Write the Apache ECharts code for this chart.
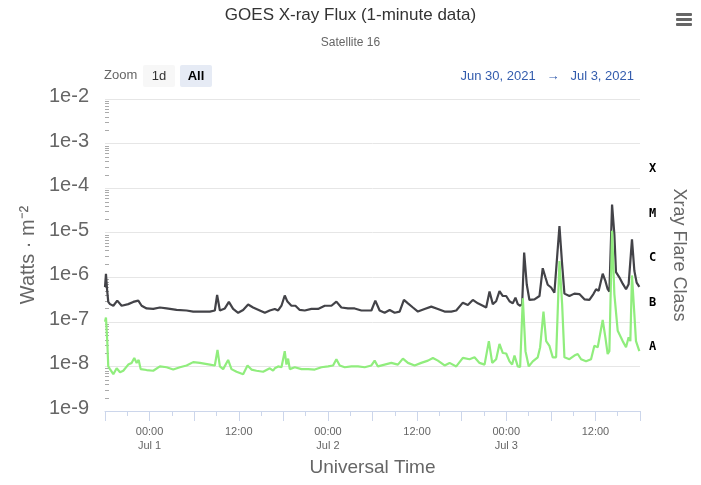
<!DOCTYPE html>
<html>
<head>
    <meta charset="utf-8">
    <title>GOES X-ray Flux</title>
    <script src="https://cdn.jsdelivr.net/npm/echarts/dist/echarts.min.js"></script>
    <style>
        body { margin: 0; background: #fff; }
        #chartmain { width: 701px; height: 485px; }
    </style>
</head>
<body>
<div id="chartmain"></div>
<script>
    // hours after 2021-06-30 18:00 UTC, flux in W/m^2
    var longHours = [0, 0.13, 0.27, 0.44, 0.67, 1.12, 1.65, 2.24, 3.13, 3.80, 4.48, 4.93, 5.60, 6.49, 7.39, 8.29, 9.64, 10.98,
        11.87, 12.77, 14.11, 14.78, 15.09, 15.46, 16.13, 16.67, 17.24, 17.92, 18.59, 19.26, 19.93, 20.83, 21.51, 22.18,
        22.85, 23.30, 23.75, 24.19, 24.55, 25.09, 25.63, 26.21, 26.88, 27.78, 28.67, 29.57, 30.47, 31.14, 31.81, 32.70,
        33.60, 34.50, 35.85, 36.38, 36.96, 37.63, 38.31, 38.98, 39.65, 40.23, 40.77, 41.44, 42.11, 43.01, 43.91, 44.80,
        45.70, 46.60, 47.27, 48.16, 48.83, 49.50, 50.18, 50.85, 51.30, 51.75, 52.19, 52.64, 53.09, 53.54, 53.99, 54.44,
        54.88, 55.24, 55.55, 55.87, 56.14, 56.41, 56.76, 57.12, 57.80, 58.47, 58.91, 59.27, 59.58, 60.04, 60.48, 60.71,
        61.16, 61.52, 61.83, 62.50, 63.17, 63.84, 64.52, 65.19, 65.73, 66.09, 66.44, 66.98, 67.34, 67.65, 67.88, 68.24,
        68.55, 68.77, 69.22, 69.67, 70.12, 70.47, 70.92, 71.24, 71.55, 71.91];
    var longFlux = [6.0e-7, 1.2e-6, 5.5e-7, 2.8e-7, 2.5e-7, 2.3e-7, 3.0e-7, 2.3e-7, 2.5e-7, 2.8e-7, 3.0e-7, 2.3e-7, 2.0e-7,
        1.95e-7, 2.1e-7, 2.0e-7, 1.85e-7, 1.8e-7, 1.7e-7, 1.7e-7, 1.7e-7, 1.8e-7, 4.0e-7, 1.8e-7, 2.0e-7, 2.8e-7, 1.95e-7,
        1.6e-7, 1.85e-7, 2.45e-7, 2.1e-7, 1.8e-7, 1.6e-7, 1.8e-7, 1.95e-7, 1.8e-7, 2.3e-7, 3.9e-7, 2.85e-7, 2.3e-7, 2.3e-7,
        1.85e-7, 1.8e-7, 1.95e-7, 1.95e-7, 2.3e-7, 2.3e-7, 2.85e-7, 2.1e-7, 2.0e-7, 2.0e-7, 1.8e-7, 1.8e-7, 3.0e-7, 1.8e-7,
        1.6e-7, 1.85e-7, 1.6e-7, 1.7e-7, 3.1e-7, 2.6e-7, 2.1e-7, 1.7e-7, 1.95e-7, 2.2e-7, 1.95e-7, 1.7e-7, 1.7e-7, 1.8e-7,
        2.7e-7, 2.4e-7, 3.1e-7, 2.6e-7, 2.3e-7, 2.1e-7, 4.8e-7, 2.5e-7, 2.9e-7, 4.9e-7, 3.8e-7, 3.8e-7, 2.9e-7, 2.6e-7,
        3.5e-7, 2.5e-7, 2.3e-7, 2.5e-7, 3.6e-6, 6.9e-7, 3.1e-7, 3.2e-7, 3.8e-7, 1.6e-6, 1.0e-6, 6.8e-7, 5.9e-7, 4.5e-7,
        4.2e-7, 1.4e-5, 1.95e-6, 4.3e-7, 3.8e-7, 4.3e-7, 4.2e-7, 3.2e-7, 3.1e-7, 4.2e-7, 5.4e-7, 5.0e-7, 1.2e-6, 8.3e-7,
        5.4e-7, 4.8e-7, 4.3e-5, 9.2e-6, 1.3e-6, 1.0e-6, 7.2e-7, 5.4e-7, 7.0e-7, 7.1e-6, 1.4e-6, 7.6e-7, 6.1e-7];

    var shortHours = [0, 0.13, 0.31, 0.44, 0.67, 1.12, 1.57, 2.02, 2.46, 3.13, 3.58, 3.94, 4.26, 4.53, 4.80, 5.60, 6.49, 7.39,
        8.29, 9.18, 10.08, 10.98, 11.87, 12.77, 14.11, 14.78, 15.14, 15.46, 15.90, 16.57, 17.02, 17.70, 18.59, 19.18,
        19.71, 20.39, 21.28, 22.18, 22.62, 22.85, 23.30, 23.75, 24.19, 24.42, 24.64, 24.87, 25.54, 26.44, 27.33, 28.23,
        29.13, 30.02, 30.69, 31.14, 31.59, 32.26, 33.16, 34.05, 34.95, 35.85, 36.29, 36.73, 37.63, 38.53, 39.42, 40.09,
        40.77, 41.67, 42.56, 43.46, 44.13, 44.80, 45.70, 46.37, 47.27, 48.16, 49.06, 49.73, 50.40, 51.08, 51.66, 52.11,
        52.64, 53.09, 53.54, 53.99, 54.44, 54.79, 55.11, 55.55, 55.87, 56.23, 56.59, 57.03, 57.57, 58.24, 58.56, 59.01,
        59.37, 59.81, 60.26, 60.71, 61.16, 61.52, 61.83, 62.50, 63.17, 63.62, 64.07, 64.74, 65.41, 65.86, 66.31, 66.98,
        67.34, 67.65, 67.88, 68.24, 68.55, 69.00, 69.67, 70.12, 70.47, 70.70, 70.92, 71.24, 71.46, 71.91];
    var shortFlux = [1.0e-7, 1.25e-7, 3.5e-8, 1.0e-8, 8.7e-9, 6.7e-9, 9.1e-9, 7.4e-9, 8.0e-9, 1.1e-8, 1.2e-8, 1.55e-8, 1.2e-8,
        1.4e-8, 8.7e-9, 8.3e-9, 8.0e-9, 1.0e-8, 9.6e-9, 8.5e-9, 9.6e-9, 1.05e-8, 1.25e-8, 1.2e-8, 1.1e-8, 1.05e-8, 2.35e-8,
        1.0e-8, 8.7e-9, 1.4e-8, 8.7e-9, 7.6e-9, 6.7e-9, 1.05e-8, 8.5e-9, 8.0e-9, 7.6e-9, 9.1e-9, 8.0e-9, 9.1e-9, 1.0e-8,
        9.6e-9, 2.2e-8, 1.1e-8, 1.5e-8, 8.7e-9, 9.6e-9, 8.7e-9, 8.7e-9, 8.5e-9, 9.6e-9, 1.0e-8, 1.05e-8, 1.45e-8, 1.05e-8,
        9.6e-9, 1.0e-8, 1.0e-8, 9.6e-9, 1.05e-8, 1.35e-8, 1.0e-8, 1.1e-8, 1.2e-8, 1.1e-8, 1.5e-8, 1.2e-8, 1.05e-8, 1.2e-8,
        1.35e-8, 1.55e-8, 1.35e-8, 1.05e-8, 1.2e-8, 1.0e-8, 1.55e-8, 1.45e-8, 1.6e-8, 1.2e-8, 1.1e-8, 3.7e-8, 1.2e-8,
        1.45e-8, 3.2e-8, 2.0e-8, 1.95e-8, 1.3e-8, 1.1e-8, 1.75e-8, 1.0e-8, 9.7e-9, 3.4e-7, 2.2e-8, 1.0e-8, 1.3e-8, 1.6e-8,
        2.7e-8, 1.7e-7, 3.7e-8, 2.9e-8, 1.6e-8, 1.6e-8, 2.3e-6, 2.5e-7, 1.6e-8, 1.45e-8, 1.75e-8, 1.9e-8, 1.45e-8, 1.3e-8,
        1.45e-8, 2.9e-8, 2.7e-8, 1.1e-7, 4.5e-8, 1.9e-8, 2.2e-8, 1.1e-5, 4.2e-7, 6.3e-8, 3.7e-8, 2.7e-8, 4.5e-8, 3.7e-8,
        1.1e-6, 1.5e-7, 3.7e-8, 2.2e-8];

    var flareClasses = ['A', 'B', 'C', 'M', 'X'];
    var monthNames = ['Jan', 'Feb', 'Mar', 'Apr', 'May', 'Jun', 'Jul', 'Aug', 'Sep', 'Oct', 'Nov', 'Dec'];

    var HOUR = 3600 * 1000;
    var start = Date.UTC(2021, 5, 30, 18);
    var end = start + 72 * HOUR;
    var FONT = "'Liberation Sans', Arial, sans-serif";

    function toPairs(hours, flux) {
        var out = [];
        for (var i = 0; i < hours.length; i++) {
            out.push([start + hours[i] * HOUR, flux[i]]);
        }
        return out;
    }

    function pad(n) {
        return (n < 10 ? '0' : '') + n;
    }

    var myChart = echarts.init(document.getElementById('chartmain'));

    var option = {
        useUTC: true,
        animation: false,
        textStyle: {fontFamily: FONT},
        title: {
            text: 'GOES X-ray Flux (1-minute data)',
            subtext: 'Satellite 16',
            left: 'center',
            top: 2,
            itemGap: 13,
            textStyle: {fontSize: 17, fontWeight: 'normal', color: '#333', fontFamily: FONT},
            subtextStyle: {fontSize: 12, color: '#666', fontFamily: FONT}
        },
        grid: {left: 105, right: 61, top: 99, bottom: 74},
        xAxis: [
            {
                type: 'time',
                min: start,
                max: end,
                minInterval: 12 * HOUR,
                maxInterval: 12 * HOUR,
                name: 'Universal Time',
                nameLocation: 'middle',
                nameGap: 47,
                nameTextStyle: {fontSize: 19, color: '#666'},
                axisLine: {lineStyle: {color: '#ccd6eb'}},
                axisTick: {length: 10, lineStyle: {color: '#ccd6eb'}},
                splitLine: {show: false},
                axisLabel: {
                    color: '#666',
                    fontSize: 11,
                    lineHeight: 14,
                    margin: 14,
                    showMinLabel: false,
                    showMaxLabel: false,
                    formatter: function (value) {
                        var d = new Date(value);
                        var h = d.getUTCHours();
                        if (d.getUTCMinutes() !== 0 || h % 12 !== 0) return '';
                        if (h === 0) return '00:00\n' + monthNames[d.getUTCMonth()] + ' ' + d.getUTCDate();
                        return pad(h) + ':00';
                    }
                }
            },
            {
                // 3-hour minor ticks
                type: 'value',
                min: 0,
                max: 72,
                interval: 3,
                position: 'bottom',
                axisLine: {show: false},
                axisTick: {length: 5, lineStyle: {color: '#ccd6eb'}},
                axisLabel: {show: false},
                splitLine: {show: false}
            }
        ],
        yAxis: [
            {
                type: 'log',
                logBase: 10,
                min: 1e-9,
                max: 1e-2,
                name: 'Watts \u00b7 m\u207b\u00b2',
                nameLocation: 'middle',
                nameRotate: 90,
                nameGap: 64,
                nameTextStyle: {fontSize: 20, color: '#666'},
                axisLine: {show: false},
                axisTick: {show: false},
                splitLine: {lineStyle: {color: '#e6e6e6'}},
                axisLabel: {
                    color: '#666',
                    fontSize: 20,
                    margin: 16,
                    verticalAlign: 'bottom',
                    lineHeight: 5,
                    formatter: function (v) {
                        return '1e' + Math.round(Math.log(v) / Math.LN10);
                    }
                }
            },
            {
                type: 'value',
                min: 0,
                max: 7,
                interval: 0.5,
                position: 'right',
                name: 'Xray Flare Class',
                nameLocation: 'middle',
                nameRotate: -90,
                nameGap: 30,
                nameTextStyle: {fontSize: 18, color: '#666'},
                axisLine: {show: false},
                axisTick: {show: false},
                splitLine: {show: false},
                axisLabel: {
                    color: '#000',
                    fontSize: 12,
                    fontWeight: 'bold',
                    fontFamily: "'DejaVu Sans Mono', 'Liberation Mono', monospace",
                    margin: 9,
                    verticalAlign: 'top',
                    lineHeight: 6,
                    formatter: function (v) {
                        var k = v - 1.5;
                        if (k >= 0 && k < flareClasses.length && k === Math.floor(k)) return flareClasses[k];
                        return '';
                    }
                }
            }
        ],
        series: [
            {
                name: 'Long',
                type: 'line',
                xAxisIndex: 0,
                yAxisIndex: 0,
                showSymbol: false,
                lineStyle: {width: 2.2, color: '#434348'},
                itemStyle: {color: '#434348'},
                data: toPairs(longHours, longFlux)
            },
            {
                name: 'Short',
                type: 'line',
                xAxisIndex: 0,
                yAxisIndex: 0,
                showSymbol: false,
                lineStyle: {width: 2.2, color: '#90ed7d'},
                itemStyle: {color: '#90ed7d'},
                data: toPairs(shortHours, shortFlux)
            }
        ]
    };
    myChart.setOption(option);

    // range selector, date range, menu icon and log minor ticks
    var graphics = [
        {type: 'text', left: 104, top: 69, style: {text: 'Zoom', fill: '#666', font: '13px ' + FONT}},
        {type: 'rect', shape: {x: 143, y: 65, width: 32, height: 22, r: 2}, style: {fill: '#f7f7f7'}},
        {type: 'text', x: 159, y: 76, style: {text: '1d', fill: '#333', font: '13px ' + FONT, align: 'center', verticalAlign: 'middle'}},
        {type: 'rect', shape: {x: 180, y: 65, width: 32, height: 22, r: 2}, style: {fill: '#e6ebf5'}},
        {type: 'text', x: 196, y: 76, style: {text: 'All', fill: '#000', font: 'bold 13px ' + FONT, align: 'center', verticalAlign: 'middle'}},
        {type: 'text', x: 634, y: 76, style: {text: 'Jun 30, 2021   \u2192   Jul 3, 2021', fill: '#335cad', font: '13px ' + FONT, align: 'right', verticalAlign: 'middle'}},
        {type: 'rect', shape: {x: 676, y: 13, width: 16, height: 3, r: 1}, style: {fill: '#666'}},
        {type: 'rect', shape: {x: 676, y: 18, width: 16, height: 3, r: 1}, style: {fill: '#666'}},
        {type: 'rect', shape: {x: 676, y: 23, width: 16, height: 3, r: 1}, style: {fill: '#666'}}
    ];
    for (var k = -9; k < -2; k++) {
        for (var m = 2; m < 10; m++) {
            var p = myChart.convertToPixel({gridIndex: 0}, [start, m * Math.pow(10, k)]);
            graphics.push({
                type: 'line',
                shape: {x1: p[0], y1: Math.round(p[1]) + 0.5, x2: p[0] + 4, y2: Math.round(p[1]) + 0.5},
                style: {stroke: '#aaa', lineWidth: 1}
            });
        }
    }
    myChart.setOption({graphic: graphics});
</script>
</body>
</html>
